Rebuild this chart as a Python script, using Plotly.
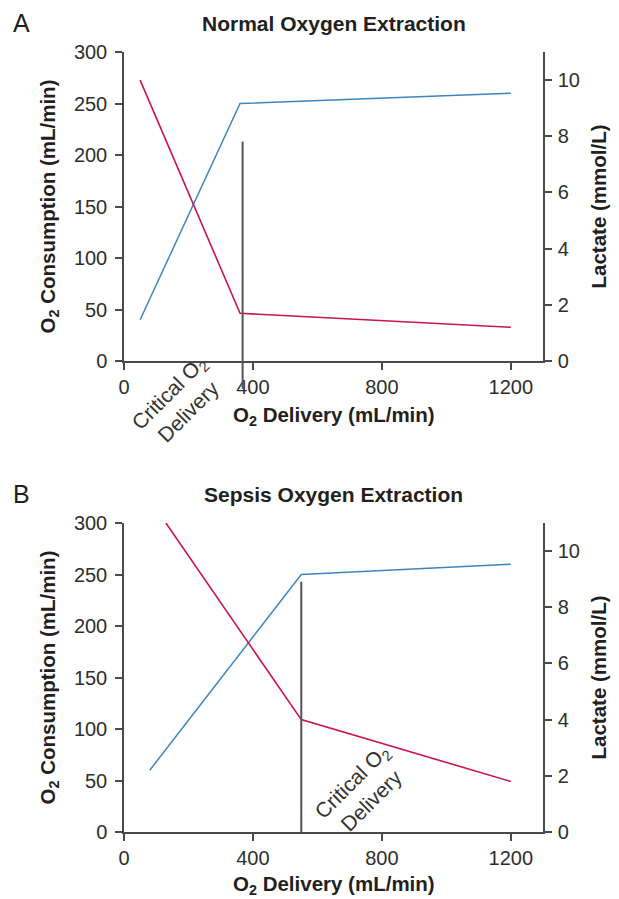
import plotly.graph_objects as go

# ---- data ----
delivery_ticks = [0, 400, 800, 1200]
cons_ticks = [0, 50, 100, 150, 200, 250, 300]
lac_ticks = [0, 2, 4, 6, 8, 10]

# Panel A: normal oxygen extraction
a_delivery = [50, 360, 1200]
a_consumption = [40, 250, 260]
a_lactate = [10, 1.7, 1.2]
a_critical_x = 368
a_critical_top = 213

# Panel B: sepsis oxygen extraction
b_delivery_cons = [80, 550, 1200]
b_consumption = [60, 250, 260]
b_delivery_lac = [130, 550, 1200]
b_lactate = [11, 4.0, 1.8]
b_critical_x = 550
b_critical_top = 243

W, H = 619, 899
BLUE = "#3d86c1"
RED = "#cc1452"
AX = "#4a4a4a"
TXT = "#231f20"
FONT = "Liberation Sans, Arial, Helvetica, sans-serif"

def px(x):
    return x / W

def py(y):
    return 1 - y / H

fig = go.Figure()

fig.add_trace(go.Scatter(x=a_delivery, y=a_consumption, mode="lines",
                         line=dict(color=BLUE, width=1.5), xaxis="x", yaxis="y"))
fig.add_trace(go.Scatter(x=a_delivery, y=a_lactate, mode="lines",
                         line=dict(color=RED, width=1.6), xaxis="x", yaxis="y2"))
fig.add_trace(go.Scatter(x=b_delivery_cons, y=b_consumption, mode="lines",
                         line=dict(color=BLUE, width=1.5), xaxis="x2", yaxis="y3"))
fig.add_trace(go.Scatter(x=b_delivery_lac, y=b_lactate, mode="lines",
                         line=dict(color=RED, width=1.6), xaxis="x2", yaxis="y4"))

xdom = [px(124), px(543)]
ydomA = [py(361), py(52)]
ydomB = [py(832), py(523)]

tickfont = dict(family=FONT, size=20, color="#2e2e2e")
common_axis = dict(showline=True, linecolor=AX, linewidth=1.5, ticks="outside",
                   ticklen=7, tickwidth=1.5, tickcolor=AX, showgrid=False,
                   zeroline=False, tickfont=tickfont, automargin=False, fixedrange=True)

fig.update_layout(
    width=W, height=H,
    margin=dict(l=0, r=0, t=0, b=0),
    paper_bgcolor="white", plot_bgcolor="white",
    showlegend=False,
    xaxis=dict(domain=xdom, range=[0, 1300], tickvals=delivery_ticks, anchor="y", **common_axis),
    yaxis=dict(domain=ydomA, range=[0, 300], tickvals=cons_ticks, anchor="x",
               ticklabelstandoff=4, **common_axis),
    yaxis2=dict(range=[0, 11], tickvals=lac_ticks, overlaying="y", side="right", anchor="x",
                ticklabelstandoff=2, **common_axis),
    xaxis2=dict(domain=xdom, range=[0, 1300], tickvals=delivery_ticks, anchor="y3", **common_axis),
    yaxis3=dict(domain=ydomB, range=[0, 300], tickvals=cons_ticks, anchor="x2",
                ticklabelstandoff=4, **common_axis),
    yaxis4=dict(range=[0, 11], tickvals=lac_ticks, overlaying="y3", side="right", anchor="x2",
                ticklabelstandoff=2, **common_axis),
)

LINE = dict(color="#555555", width=2)
# critical delivery lines
fig.add_shape(type="line", xref="x", yref="y", x0=a_critical_x, x1=a_critical_x,
              y0=0, y1=a_critical_top, line=LINE)
# leader extension below the axis in panel A
fig.add_shape(type="line", xref="x", yref="y domain", x0=a_critical_x, x1=a_critical_x,
              y0=-0.09, y1=0, line=LINE)
fig.add_shape(type="line", xref="x2", yref="y3", x0=b_critical_x, x1=b_critical_x,
              y0=0, y1=b_critical_top, line=LINE)

def ann(text, x, y, size, angle=0, xanchor="center", bold=False, color=TXT):
    if bold:
        text = "<b>" + text + "</b>"
    fig.add_annotation(text=text, x=px(x), y=py(y), xref="paper", yref="paper",
                       showarrow=False, textangle=angle, xanchor=xanchor, yanchor="middle",
                       font=dict(family=FONT, size=size, color=color))

for off, letter, title, crit in [(0, "A", "Normal Oxygen Extraction", (178, 402)),
                                 (471, "B", "Sepsis Oxygen Extraction", (361, 791))]:
    ann(letter, 11, 23 + off, 25, xanchor="left")
    ann(title, 333.5, 23 + off, 21, bold=True)
    ann("O<sub>2</sub> Consumption (mL/min)", 48, 206.5 + off, 20.5, angle=-90, bold=True)
    ann("Lactate (mmol/L)", 598, 206.5 + off, 20.5, angle=-90, bold=True)
    ann("O<sub>2</sub> Delivery (mL/min)", 333.5, 416 + off - (2 if off else 0), 20.5, bold=True)
    ann("Critical O<sub>2</sub><br>Delivery", crit[0], crit[1], 21, angle=-45, color="#333333")

fig.write_html("out.html", config={"displayModeBar": False},
               post_script="document.body.style.margin='0';")
